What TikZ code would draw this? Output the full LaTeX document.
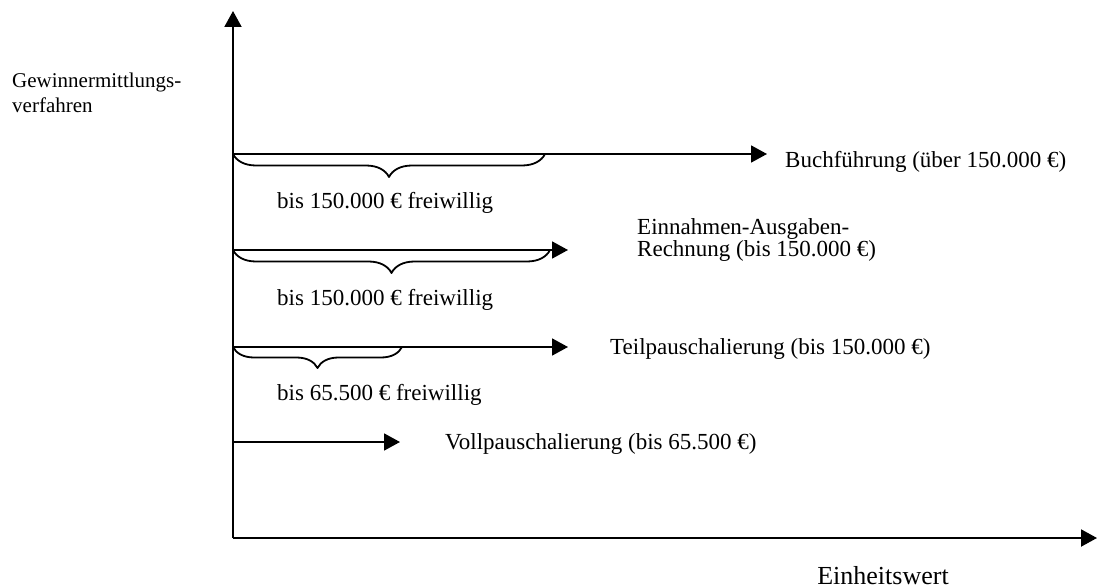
\documentclass[tikz,border=0pt]{standalone}
\usepackage{fontspec}
\setmainfont{Liberation Serif}
\usetikzlibrary{arrows.meta,calc,positioning,decorations.pathreplacing}
\tikzset{lbl/.style={inner sep=0pt,anchor=west,font=\fontsize{23}{20}\selectfont},
  ax/.style={line width=2pt,-{Triangle[length=16pt,width=17pt]}},
  verf/.style={line width=1.8pt,-{Triangle[length=16pt,width=17pt]}},
  klammer/.style={line width=1.8pt,decorate,decoration={brace,mirror,amplitude=#1,aspect=0.5}}}

\begin{document}
\begin{tikzpicture}[x=1pt,y=-1pt,line join=round]
\useasboundingbox (0,0) rectangle (1103,588);
% --- axes
\coordinate (o) at (233,538); \coordinate (ytop) at (233,11); \coordinate (xend) at (1097,538);
\draw[ax] (o) -- (ytop);
\draw[ax] (o) -- (xend);
\node[inner sep=0pt,anchor=west,align=left,font=\fontsize{21}{25}\selectfont] (yl) at (12,93) {Gewinnermittlungs-\\verfahren};
\node[inner sep=0pt,anchor=base,font=\fontsize{26}{30}\selectfont] (xl) at (883,584) {Einheitswert};
% --- Buchfuehrung
\coordinate (b0) at (233,154); \coordinate (b1) at (767,154); \coordinate (bk) at (545,154);
\draw[verf] (b0) -- (b1);
\draw[klammer=23pt] (b0) -- (bk);
\node[lbl] (buch) at (785,162) {Buchführung (über 150.000 €)};
\node[lbl] (bfrei) at (277,203) {bis 150.000 € freiwillig};
% --- Einnahmen-Ausgaben-Rechnung
\coordinate (e0) at (233,250); \coordinate (e1) at (568,250); \coordinate (ek) at (550,250);
\draw[verf] (e0) -- (e1);
\draw[klammer=23pt] (e0) -- (ek);
\node[lbl,align=left] (ear) at (637,240) {Einnahmen-Ausgaben-\\Rechnung (bis 150.000 €)};
\node[lbl] (efrei) at (277,300) {bis 150.000 € freiwillig};
% --- Teilpauschalierung
\coordinate (t0) at (233,347); \coordinate (t1) at (568,347); \coordinate (tk) at (402,347);
\draw[verf] (t0) -- (t1);
\draw[klammer=21pt] (t0) -- (tk);
\node[lbl] (teil) at (610,349) {Teilpauschalierung (bis 150.000 €)};
\node[lbl] (tfrei) at (277,395) {bis 65.500 € freiwillig};
% --- Vollpauschalierung
\coordinate (v0) at (233,442); \coordinate (v1) at (400,442);
\draw[verf] (v0) -- (v1);
\node[lbl] (voll) at (445,444) {Vollpauschalierung (bis 65.500 €)};
\end{tikzpicture}
\end{document}
